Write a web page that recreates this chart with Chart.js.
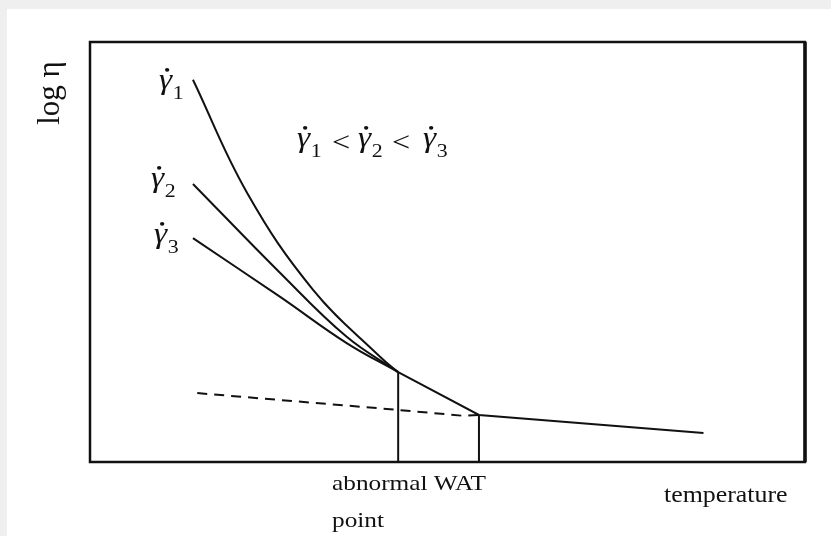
<!DOCTYPE html>
<html>
<head>
<meta charset="utf-8">
<script src="https://cdn.jsdelivr.net/npm/chart.js@4"></script>
<style>
html,body{margin:0;padding:0;background:#fff;}
#wrap{position:absolute;left:0;top:0;width:831px;height:536px;}
</style>
</head>
<body>
<div id="wrap"><canvas id="c" width="831" height="536"></canvas></div>
<script>
// Temperature (arbitrary units) and log viscosity for the three shear-rate curves
const gamma1X = [14.4, 22.0, 31.2, 40.6, 43.1];
const gamma1Y = [91.0, 64.0, 41.0, 25.0, 21.4];
const gamma2X = [14.4, 26.6, 35.9, 43.1];
const gamma2Y = [66.2, 45.0, 29.8, 21.4];
const gamma3X = [14.4, 26.6, 35.9, 43.1];
const gamma3Y = [53.3, 39.3, 28.3, 21.4];
// Common curve after the abnormal point
const commonX = [43.1, 54.4, 85.8];
const commonY = [21.4, 11.2, 6.9];
// Dashed extrapolation
const dashX = [15.0, 43.1, 52.2, 54.4];
const dashY = [16.4, 12.4, 11.0, 11.2];
// Vertical markers: abnormal point and WAT
const markX = [43.1, 54.4];
const markY = [21.4, 11.2];

const pts = (xs, ys) => xs.map((x, i) => ({x, y: ys[i]}));
const INK = '#111';

const base = {borderColor: INK, borderWidth: 2, pointRadius: 0, fill: false};
const datasets = [
  {...base, label: 'g1', data: pts(gamma1X, gamma1Y), tension: 0.4},
  {...base, label: 'g2', data: pts(gamma2X, gamma2Y), tension: 0.4},
  {...base, label: 'g3', data: pts(gamma3X, gamma3Y), tension: 0.4},
  {...base, label: 'common', data: pts(commonX, commonY), tension: 0},
  {...base, label: 'dash', data: pts(dashX, dashY), borderDash: [10, 7], tension: 0},
  {...base, label: 'v1', data: [{x: markX[0], y: 0}, {x: markX[0], y: markY[0]}]},
  {...base, label: 'v2', data: [{x: markX[1], y: 0}, {x: markX[1], y: markY[1]}]}
];

const SX = 1.15; // reference text is slightly stretched horizontally

function gammaDot(ctx, x, y, sub) {
  const size = 29;
  ctx.save();
  ctx.translate(x, y);
  ctx.scale(SX, 1);
  ctx.font = 'italic ' + size + 'px "Liberation Serif"';
  ctx.textAlign = 'left';
  ctx.textBaseline = 'alphabetic';
  ctx.fillText('\u03B3', 0, 0);
  const w = ctx.measureText('\u03B3').width;
  ctx.beginPath();
  ctx.arc(w * 0.62, -size * 0.66, size * 0.065, 0, Math.PI * 2);
  ctx.fill();
  ctx.font = '19px "Liberation Serif"';
  ctx.fillText(sub, w + 0.5, size * 0.34);
  ctx.restore();
}

function text(ctx, s, x, y, font) {
  ctx.save();
  ctx.translate(x, y);
  ctx.scale(SX, 1);
  ctx.font = font;
  ctx.textAlign = 'left';
  ctx.textBaseline = 'alphabetic';
  ctx.fillText(s, 0, 0);
  ctx.restore();
}

const deco = {
  id: 'deco',
  beforeDraw(chart) {
    const ctx = chart.ctx;
    ctx.save();
    ctx.fillStyle = '#fff';
    ctx.fillRect(0, 0, chart.width, chart.height);
    ctx.fillStyle = '#efefef';
    ctx.fillRect(0, 0, chart.width, 9);
    ctx.fillRect(0, 0, 7, chart.height);
    ctx.restore();
  },
  afterDraw(chart) {
    const ctx = chart.ctx;
    const a = chart.chartArea;
    ctx.save();
    ctx.strokeStyle = INK;
    ctx.lineWidth = 2.5;
    ctx.strokeRect(a.left, a.top, a.right - a.left, a.bottom - a.top);
    ctx.lineWidth = 3.5;
    ctx.beginPath(); ctx.moveTo(a.right, a.top); ctx.lineTo(a.right, a.bottom); ctx.stroke();

    ctx.fillStyle = INK;
    // curve labels
    gammaDot(ctx, a.left + 69, 89, '1');
    gammaDot(ctx, a.left + 61, 187, '2');
    gammaDot(ctx, a.left + 64, 243, '3');
    // relation
    gammaDot(ctx, a.left + 207, 147, '1');
    text(ctx, '<', a.left + 242, 151, '28px "Liberation Serif"');
    gammaDot(ctx, a.left + 268, 147, '2');
    text(ctx, '<', a.left + 302, 151, '28px "Liberation Serif"');
    gammaDot(ctx, a.left + 333, 147, '3');

    // y label
    ctx.save();
    ctx.translate(59, 93);
    ctx.rotate(-Math.PI / 2);
    ctx.font = '31px "Liberation Serif"';
    ctx.textAlign = 'center';
    ctx.fillText('log \u03B7', 0, 0);
    ctx.restore();

    // bottom labels
    const f = '22px "Liberation Serif"';
    text(ctx, 'abnormal WAT', 332, 490, f);
    text(ctx, 'point', 332, 527, f);
    text(ctx, 'temperature', 664, 502, '22.5px "Liberation Serif"');
    ctx.restore();
  }
};

new Chart(document.getElementById('c'), {
  type: 'line',
  data: {datasets},
  options: {
    responsive: false,
    animation: false,
    layout: {padding: {left: 90, top: 42, right: 26, bottom: 74}},
    plugins: {legend: {display: false}, tooltip: {enabled: false}},
    scales: {
      x: {type: 'linear', min: 0, max: 100, display: false},
      y: {type: 'linear', min: 0, max: 100, display: false}
    }
  },
  plugins: [deco]
});
</script>
</body>
</html>
